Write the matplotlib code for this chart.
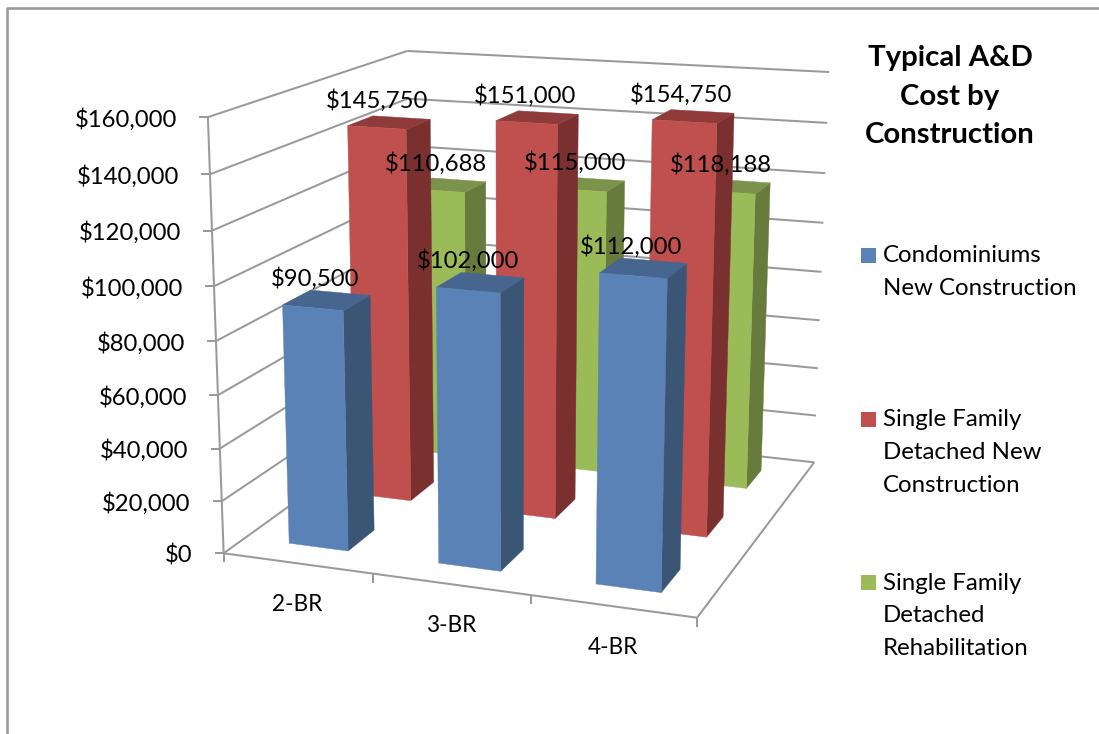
import numpy as np
import matplotlib
matplotlib.use("Agg")
import matplotlib.pyplot as plt
from matplotlib.patches import Polygon, Rectangle

plt.rcParams['font.family'] = ['Lato', 'DejaVu Sans']

categories = ['2-BR', '3-BR', '4-BR']
condo_new = [90500, 102000, 112000]
sf_new = [145750, 151000, 154750]
sf_rehab = [110688, 115000, 118188]
value_ticks = [0, 20000, 40000, 60000, 80000, 100000, 120000, 140000, 160000]
title_lines = ['Typical A&D', 'Cost by', 'Construction']
legend_labels = [['Condominiums', 'New Construction'],
                 ['Single Family', 'Detached New', 'Construction'],
                 ['Single Family', 'Detached', 'Rehabilitation']]

VMAX = 160000.0
BAR_LO, BAR_HI = 0.3, 0.7

GRID = '#9a9a9a'
FRONT = ['#5b82b6', '#c0504d', '#9bbb59']
TOP = ['#46658f', '#8e3b39', '#7b934a']
SIDE = ['#3b5675', '#7a302f', '#667b3c']

# camera calibration from the chart box: (category, depth, value) -> pixel
box = [(0, 0, 0, 224, 553), (0, 0, 160000, 208, 117), (3, 0, 0, 697, 617),
       (3, 3, 0, 814, 462), (3, 3, 160000, 829, 72), (0, 3, 160000, 407, 51),
       (1, 0, 0, 373, 574), (2, 0, 0, 531, 596),
       (3, 3, 140000, 827, 123), (3, 3, 120000, 825, 173),
       (3, 3, 100000, 824, 223), (3, 3, 80000, 822, 272),
       (0, 0, 140000, 210, 174), (0, 0, 120000, 212, 231), (0, 0, 100000, 214, 286)]

rows = []
for cx, cy, cz, px, py in box:
    X = [cx / 3, cy / 3, cz / VMAX, 1]
    u, v = px / 1000, py / 1000
    rows.append(X + [0, 0, 0, 0] + [-u * c for c in X])
    rows.append([0, 0, 0, 0] + X + [-v * c for c in X])
P = np.linalg.svd(np.array(rows))[2][-1].reshape(3, 4)


def project(x, y, z):
    h = P @ np.array([x / 3, y / 3, z / VMAX, 1])
    return 1000 * h[0] / h[2], 1000 * h[1] / h[2]


fig = plt.figure(figsize=(10.99, 7.34), dpi=100)
ax = fig.add_axes([0, 0, 1, 1])
ax.set_xlim(0, 1099)
ax.set_ylim(734, 0)
ax.axis('off')


def line(p0, p1):
    ax.plot([p0[0], p1[0]], [p0[1], p1[1]], color=GRID, lw=1.45, solid_capstyle='butt', zorder=1)


# outer border, only top and left show
ax.plot([1099, 7, 7], [8, 8, 734], color=GRID, lw=1.9, zorder=1)

# gridlines on the side wall and the back wall
for v in value_ticks:
    line(project(0, 0, v), project(0, 3, v))
    line(project(0, 3, v), project(3, 3, v))
    px, py = project(0, 0, v)
    line((px, py), (px - 9, py))
    ax.text(px - 31, py + 2, f'${v:,}', ha='right', va='center', fontsize=17.2, color='black', zorder=6)

line(project(0, 0, 0), project(0, 0, VMAX))
line(project(0, 0, 0), project(3, 0, 0))
line(project(3, 0, 0), project(3, 3, 0))
for i in range(4):
    px, py = project(i, 0, 0)
    line((px, py), (px, py + 9))
for i, name in enumerate(categories):
    px, py = project(i + 0.5, 0, 0)
    ax.text(px, py + 41, name, ha='center', va='center', fontsize=16.3, color='black', zorder=6)


def bar3d(i, depth, value, s):
    x0, x1 = i + BAR_LO, i + BAR_HI
    y0, y1 = depth + BAR_LO, depth + BAR_HI
    side = [project(x1, y0, 0), project(x1, y1, 0), project(x1, y1, value), project(x1, y0, value)]
    top = [project(x0, y0, value), project(x1, y0, value), project(x1, y1, value), project(x0, y1, value)]
    front = [project(x0, y0, 0), project(x1, y0, 0), project(x1, y0, value), project(x0, y0, value)]
    z = 3 - depth
    ax.add_patch(Polygon(side, closed=True, fc=SIDE[s], ec=SIDE[s], lw=0.3, zorder=z))
    ax.add_patch(Polygon(top, closed=True, fc=TOP[s], ec=TOP[s], lw=0.3, zorder=z))
    ax.add_patch(Polygon(front, closed=True, fc=FRONT[s], ec=FRONT[s], lw=0.3, zorder=z))


# back row first so nearer bars cover it
series = [condo_new, sf_new, sf_rehab]
for s in [2, 1, 0]:
    for i in range(3):
        bar3d(i, s, series[s][i], s)

for s in range(3):
    for i in range(3):
        px, py = project(i + 0.5, s + 0.5, series[s][i])
        ax.text(px - 12, py - 22, f'${series[s][i]:,}', ha='center', va='center',
                fontsize=17.2, color='black', zorder=6)

# title block on the right
for text, y in zip(title_lines, [58, 97, 135]):
    ax.text(950, y, text, ha='center', va='center', fontsize=21.2, fontweight='bold', color='black')

# legend
legend_y = [256, 420, 583]
for s, lines in enumerate(legend_labels):
    ax.add_patch(Rectangle((861, legend_y[s] - 8.5), 15, 15, fc=FRONT[s], ec='none'))
    for k, text in enumerate(lines):
        ax.text(883, legend_y[s] + k * 32.7, text, ha='left', va='center', fontsize=17.3, color='black')

fig.savefig('out.png', dpi=100, facecolor='white')
